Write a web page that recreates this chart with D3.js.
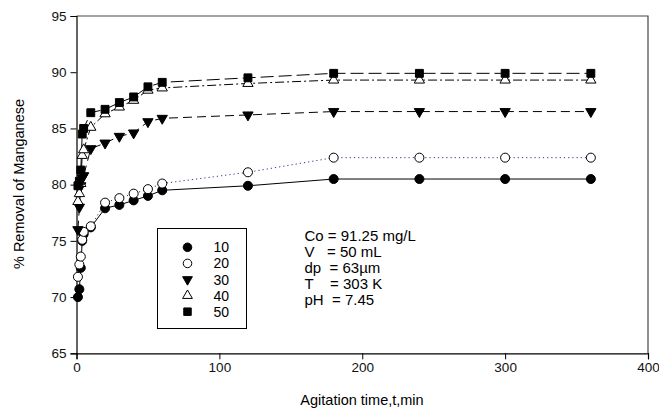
<!DOCTYPE html>
<html>
<head>
<meta charset="utf-8">
<script src="https://cdn.jsdelivr.net/npm/d3@7/dist/d3.min.js"></script>
<style>
  body { margin: 0; background: #fff; }
  svg { font-family: "Liberation Sans", Arial, sans-serif; }
</style>
</head>
<body>
<div id="chart"></div>
<script>
// agitation time (min) and % removal for each series
const times = [1, 2, 3, 4, 5, 10, 20, 30, 40, 50, 60, 120, 180, 240, 300, 360];
const rem10 = [70.0, 70.7, 72.6, 75.0, 75.6, 76.2, 77.9, 78.2, 78.6, 79.0, 79.5, 79.9, 80.5, 80.5, 80.5, 80.5];
const rem20 = [71.8, 72.9, 73.6, 75.1, 75.8, 76.3, 78.4, 78.8, 79.2, 79.6, 80.1, 81.1, 82.4, 82.4, 82.4, 82.4];
const rem30 = [76.0, 78.0, 79.9, 80.6, 80.8, 83.2, 83.7, 84.3, 84.6, 85.6, 85.9, 86.2, 86.5, 86.5, 86.5, 86.5];
const rem40 = [78.5, 79.2, 80.1, 82.6, 83.1, 85.1, 86.3, 86.9, 87.5, 88.4, 88.6, 89.0, 89.3, 89.3, 89.3, 89.3];
const rem50 = [79.9, 80.3, 81.3, 84.5, 85.0, 86.4, 86.7, 87.3, 87.8, 88.7, 89.1, 89.5, 89.9, 89.9, 89.9, 89.9];
const seriesNames = ['10', '20', '30', '40', '50'];
const xTicks = [0, 100, 200, 300, 400];
const yTicks = [65, 70, 75, 80, 85, 90, 95];
const notes = ['Co = 91.25 mg/L', 'V   = 50 mL', 'dp  = 63\u00b5m', 'T    = 303 K', 'pH  = 7.45'];

const W = 659, H = 414;
const svg = d3.select('#chart').append('svg')
  .attr('width', W).attr('height', H);

var x = d3.scaleLinear().domain([0, 400]).range([76.5, 648]);
var y = d3.scaleLinear().domain([65, 95]).range([353.3, 16]);

// frame top/right
svg.append('path')
  .attr('d', `M${x(0)},${y(95)}H${x(400)}V${y(65)}`)
  .attr('fill', 'none').attr('stroke', '#444').attr('stroke-width', 1.2);

// axes
var xAxis = svg.append('g').attr('transform', `translate(0,${y(65)})`)
  .call(d3.axisBottom(x).tickValues(xTicks).tickSize(6).tickPadding(3).tickFormat(d3.format('d')));
var yAxis = svg.append('g').attr('transform', `translate(${x(0)},0)`)
  .call(d3.axisLeft(y).tickValues(yTicks).tickSize(6).tickPadding(4).tickFormat(d3.format('d')));
[xAxis, yAxis].forEach(g => {
  g.select('.domain').attr('stroke', '#000').attr('stroke-width', 1.2);
  g.selectAll('.tick line').attr('stroke', '#000');
  g.selectAll('.tick text').attr('font-size', 13.5).attr('fill', '#111')
    .attr('font-family', '"Liberation Sans", Arial, sans-serif');
});

svg.append('text')
  .attr('x', 362).attr('y', 405)
  .attr('text-anchor', 'middle').attr('font-size', 14.5)
  .text('Agitation time,t,min');
svg.append('text')
  .attr('transform', 'translate(24,184) rotate(-90)')
  .attr('text-anchor', 'middle').attr('font-size', 14.5)
  .text('% Removal of Manganese');

// series styles
var series = [
  { name: seriesNames[0], vals: rem10, sym: d3.symbolCircle, fill: '#000', stroke: '#000', dash: null, size: 64 },
  { name: seriesNames[1], vals: rem20, sym: d3.symbolCircle, fill: '#fff', stroke: '#4b2a8c', dash: '1.2,3', size: 64 },
  { name: seriesNames[2], vals: rem30, sym: d3.symbolTriangle, fill: '#000', stroke: '#000', dash: '9,5', size: 46, flip: true },
  { name: seriesNames[3], vals: rem40, sym: d3.symbolTriangle, fill: '#fff', stroke: '#000', dash: '9,3,2,3', size: 46 },
  { name: seriesNames[4], vals: rem50, sym: d3.symbolSquare, fill: '#000', stroke: '#000', dash: '13,5', size: 62 }
];

var line = d3.line().x(d => x(d[0])).y(d => y(d[1]));

series.forEach(s => {
  var pts = times.map((t, i) => [t, s.vals[i]]);
  svg.append('path').datum(pts)
    .attr('d', line)
    .attr('fill', 'none')
    .attr('stroke', s.stroke)
    .attr('stroke-width', 1)
    .attr('stroke-dasharray', s.dash);
});

series.forEach(s => {
  var pts = times.map((t, i) => [t, s.vals[i]]);
  svg.append('g').selectAll('path').data(pts).join('path')
    .attr('transform', d => `translate(${x(d[0])},${y(d[1])})` + (s.flip ? ' rotate(180)' : ''))
    .attr('d', d3.symbol().type(s.sym).size(s.size))
    .attr('fill', s.fill)
    .attr('stroke', '#000')
    .attr('stroke-width', 1);
});

// legend
var leg = svg.append('g');
leg.append('rect')
  .attr('x', 157.5).attr('y', 228.5).attr('width', 89).attr('height', 100)
  .attr('fill', '#fff').attr('stroke', '#000').attr('stroke-width', 1);
series.forEach((s, i) => {
  var ly = 247.3 + i * 16.1;
  leg.append('path')
    .attr('transform', `translate(187.5,${ly})` + (s.flip ? ' rotate(180)' : ''))
    .attr('d', d3.symbol().type(s.sym).size(s.size * 0.9))
    .attr('fill', s.fill).attr('stroke', '#000').attr('stroke-width', 1);
  leg.append('text')
    .attr('x', 213.5).attr('y', ly).attr('dy', '0.36em')
    .attr('font-size', 14).text(s.name);
});

// experimental conditions
svg.append('g').selectAll('text').data(notes).join('text')
  .attr('x', 304.5)
  .attr('y', (d, i) => 236 + i * 15.8)
  .attr('dy', '0.36em')
  .attr('font-size', 15)
  .style('white-space', 'pre')
  .attr('xml:space', 'preserve')
  .text(d => d);
</script>
</body>
</html>
